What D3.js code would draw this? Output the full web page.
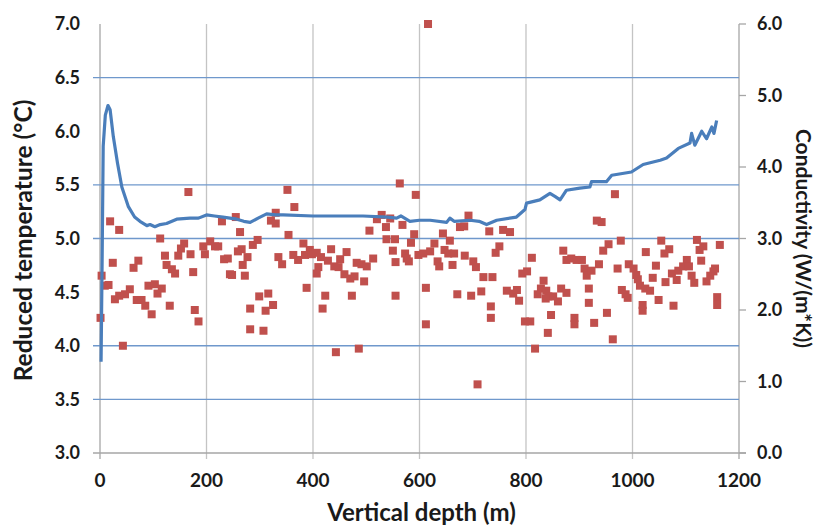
<!DOCTYPE html>
<html lang="en">
<head>
<meta charset="UTF-8">
<title>Reduced temperature and conductivity vs depth</title>
<script src="https://d3js.org/d3.v7.min.js"></script>
<style>
  body { margin: 0; background: #fff; }
  text { font-family: Lato, "Open Sans", sans-serif; font-weight: bold; fill: #1a1a1a; }
</style>
</head>
<body>
<svg width="819" height="526"></svg>
<script>
// depth ticks and axis ranges
const depthTicks = [0, 200, 400, 600, 800, 1000, 1200];
const tempTicks = [3.0, 3.5, 4.0, 4.5, 5.0, 5.5, 6.0, 6.5, 7.0];
const tempGrid = [3.5, 4.0, 5.0, 5.5, 6.5]; // the lines that show in the picture
const condTicks = [0, 1, 2, 3, 4, 5, 6];

// reduced temperature profile [depth m, temp °C]
const tempProfile = [
  [2,3.85],[4,4.8],[6,5.86],[10,6.15],[15,6.24],[19,6.2],[25,5.95],[33,5.7],[41,5.48],[53,5.3],
  [65,5.2],[75,5.16],[88,5.12],[94,5.13],[103,5.11],[113,5.13],[125,5.14],[144,5.18],[169,5.19],
  [185,5.19],[200,5.22],[215,5.21],[231,5.2],[257,5.18],[270,5.16],[282,5.15],[297,5.19],[313,5.23],
  [330,5.22],[344,5.22],[400,5.21],[451,5.21],[494,5.21],[540,5.2],[557,5.19],[565,5.21],[582,5.16],
  [600,5.17],[620,5.17],[651,5.15],[657,5.19],[665,5.16],[695,5.17],[712,5.16],[726,5.13],[745,5.17],
  [782,5.2],[798,5.27],[801,5.33],[826,5.36],[845,5.42],[855,5.39],[864,5.36],[876,5.45],[901,5.47],
  [920,5.48],[923,5.53],[951,5.53],[961,5.59],[998,5.62],[1020,5.69],[1052,5.73],[1064,5.75],
  [1086,5.84],[1108,5.89],[1111,5.98],[1117,5.87],[1130,6.0],[1139,5.93],[1149,6.04],[1153,5.98],[1158,6.1]
];

// conductivity samples [depth m, W/(m*K)]
const conductivity = [
  [166,3.65],[19,3.24],[36,3.12],[113,3.00],[229,3.24],[255,3.30],[263,3.09],[158,2.93],[152,2.86],
  [147,2.76],[122,2.76],[170,2.78],[194,2.89],[207,2.96],[216,2.89],[222,2.89],[197,2.78],[266,2.85],
  [259,2.82],[287,2.91],[296,2.98],[277,2.74],[268,2.63],[233,2.71],[240,2.72],[24,2.66],[72,2.69],
  [63,2.59],[125,2.63],[135,2.57],[141,2.51],[175,2.53],[244,2.50],[248,2.49],[272,2.48],[3,2.48],
  [9,2.34],[16,2.35],[91,2.34],[103,2.36],[116,2.30],[108,2.23],[56,2.29],[47,2.22],[36,2.20],
  [28,2.15],[69,2.14],[78,2.14],[85,2.06],[97,1.94],[131,2.06],[178,2.00],[185,1.84],[1,1.89],
  [282,2.02],[282,1.73],[299,2.19],[43,1.50],
  [352,3.68],[365,3.44],[330,3.36],[321,3.25],[330,3.21],[354,3.05],[382,2.93],[394,2.84],[363,2.77],
  [372,2.70],[385,2.77],[398,2.78],[407,2.80],[335,2.74],[342,2.64],[434,2.85],[415,2.74],[428,2.69],
  [440,2.61],[451,2.71],[463,2.81],[448,2.60],[410,2.60],[407,2.51],[459,2.50],[470,2.44],[478,2.47],
  [496,2.40],[482,2.66],[491,2.64],[501,2.61],[513,2.72],[388,2.31],[316,2.23],[325,2.07],[311,1.99],
  [423,2.20],[473,2.20],[418,2.02],[307,1.71],[443,1.41],[486,1.46],[563,3.77],[593,3.61],[529,3.33],
  [520,3.27],[545,3.28],[537,3.16],[506,3.11],[568,3.19],[538,2.99],[554,2.99],[590,3.06],[584,2.94],
  [550,2.83],[573,2.79],[576,2.72],[580,2.68],[555,2.67],[598,2.77],[555,2.20],[616,6.00],
  [692,3.32],[676,3.16],[684,3.17],[644,3.07],[731,3.10],[757,3.12],[770,3.09],[628,2.93],[657,2.97],
  [607,2.79],[620,2.82],[647,2.84],[654,2.79],[665,2.79],[634,2.68],[637,2.61],[662,2.63],[685,2.76],
  [701,2.68],[706,2.60],[750,2.89],[743,2.80],[720,2.46],[737,2.46],[612,2.31],[671,2.22],[697,2.20],
  [716,2.26],[734,2.05],[734,1.89],[612,1.80],[709,0.96],[764,2.27],[776,2.23],[783,2.28],[787,2.13],
  [793,2.51],[802,2.54],[811,2.73],[798,1.84],[808,1.84],[817,1.46],[833,2.41],[828,2.30],[822,2.22],
  [838,2.27],[842,2.19],[837,2.16],[851,2.19],[860,2.12],[847,1.93],[841,1.68],[866,2.30],[876,2.24],
  [870,2.83],[876,2.70],[885,2.72],[895,2.70],[891,1.89],[891,1.80],
  [967,3.62],[933,3.25],[942,3.23],[955,2.92],[945,2.83],[978,2.97],[905,2.70],[937,2.64],[910,2.58],
  [914,2.48],[923,2.55],[972,2.58],[918,2.30],[980,2.28],[987,2.22],[991,2.17],[918,2.10],[952,1.96],
  [928,1.82],[963,1.59],[993,2.64],[1002,2.58],[1007,2.49],[1010,2.43],[1014,2.34],[1024,2.30],
  [1033,2.27],[1019,2.07],[1019,1.99],[1025,2.81],[1054,2.97],[1069,2.85],[1060,2.79],[1044,2.62],
  [1038,2.45],[1049,2.14],[1062,2.39],[1077,2.06],[1074,2.51],[1083,2.42],[1086,2.55],[1095,2.61],
  [1102,2.70],[1106,2.61],[1111,2.48],[1116,2.38],[1121,2.98],[1126,2.84],[1133,2.89],[1129,2.69],
  [1139,2.40],[1146,2.48],[1152,2.54],[1155,2.58],[1159,2.18],[1159,2.07],[1164,2.91]
];

const svg = d3.select("svg");
const mLeft = 100, mRight = 739, mTop = 24, mBottom = 453;

const x = d3.scaleLinear().domain([0, 1200]).range([mLeft, mRight]);
const yT = d3.scaleLinear().domain([3, 7]).range([mBottom, mTop]);
const yC = d3.scaleLinear().domain([0, 6]).range([mBottom, mTop]);

// vertical grid lines
svg.append("g").selectAll("line").data(depthTicks).join("line")
  .attr("x1", d => x(d)).attr("x2", d => x(d))
  .attr("y1", mTop).attr("y2", mBottom + 6)
  .attr("stroke", d => (d === 0 || d === 1200) ? "#a6a6a6" : "#c4c4c4")
  .attr("stroke-width", 1.3);

// horizontal grid lines (blue)
svg.append("g").selectAll("line").data(tempGrid).join("line")
  .attr("x1", mLeft - 7).attr("x2", mRight)
  .attr("y1", d => yT(d)).attr("y2", d => yT(d))
  .attr("stroke", "#6f98cc").attr("stroke-width", 1.3);

// bottom axis line
svg.append("line")
  .attr("x1", mLeft - 7).attr("x2", mRight + 7)
  .attr("y1", mBottom).attr("y2", mBottom)
  .attr("stroke", "#a6a6a6").attr("stroke-width", 1.3);

// right axis ticks
svg.append("g").selectAll("line").data(condTicks).join("line")
  .attr("x1", mRight).attr("x2", mRight + 7)
  .attr("y1", d => yC(d)).attr("y2", d => yC(d))
  .attr("stroke", "#a6a6a6").attr("stroke-width", 1.3);

// tick labels
svg.append("g").selectAll("text").data(tempTicks).join("text")
  .attr("x", 80).attr("y", d => yT(d)).attr("dy", "0.36em")
  .attr("text-anchor", "end").attr("font-size", 18)
  .text(d => d.toFixed(1));

svg.append("g").selectAll("text").data(condTicks).join("text")
  .attr("x", 757).attr("y", d => yC(d)).attr("dy", "0.36em")
  .attr("text-anchor", "start").attr("font-size", 18)
  .text(d => d.toFixed(1));

svg.append("g").selectAll("text").data(depthTicks).join("text")
  .attr("x", d => x(d)).attr("y", 487)
  .attr("text-anchor", "middle").attr("font-size", 19)
  .text(d => d);

// conductivity squares
svg.append("g").selectAll("rect").data(conductivity).join("rect")
  .attr("x", d => x(d[0]) - 4).attr("y", d => yC(d[1]) - 4)
  .attr("width", 8).attr("height", 8)
  .attr("fill", "#c0504d");

// temperature line
const line = d3.line().x(d => x(d[0])).y(d => yT(d[1]));
svg.append("path").datum(tempProfile)
  .attr("d", line)
  .attr("fill", "none")
  .attr("stroke", "#4a7ebb")
  .attr("stroke-width", 3.2)
  .attr("stroke-linejoin", "round");

// axis titles
svg.append("text")
  .attr("transform", `translate(32,${(mTop + mBottom) / 2 + 2}) rotate(-90)`)
  .attr("text-anchor", "middle").attr("font-size", 24.5)
  .text("Reduced temperature (°C)");

svg.append("text")
  .attr("transform", `translate(796,${(mTop + mBottom) / 2}) rotate(90)`)
  .attr("text-anchor", "middle").attr("font-size", 21)
  .text("Conductivity (W/(m*K))");

svg.append("text")
  .attr("x", (mLeft + mRight) / 2 + 2).attr("y", 521)
  .attr("text-anchor", "middle").attr("font-size", 24)
  .text("Vertical depth (m)");
</script>
</body>
</html>
